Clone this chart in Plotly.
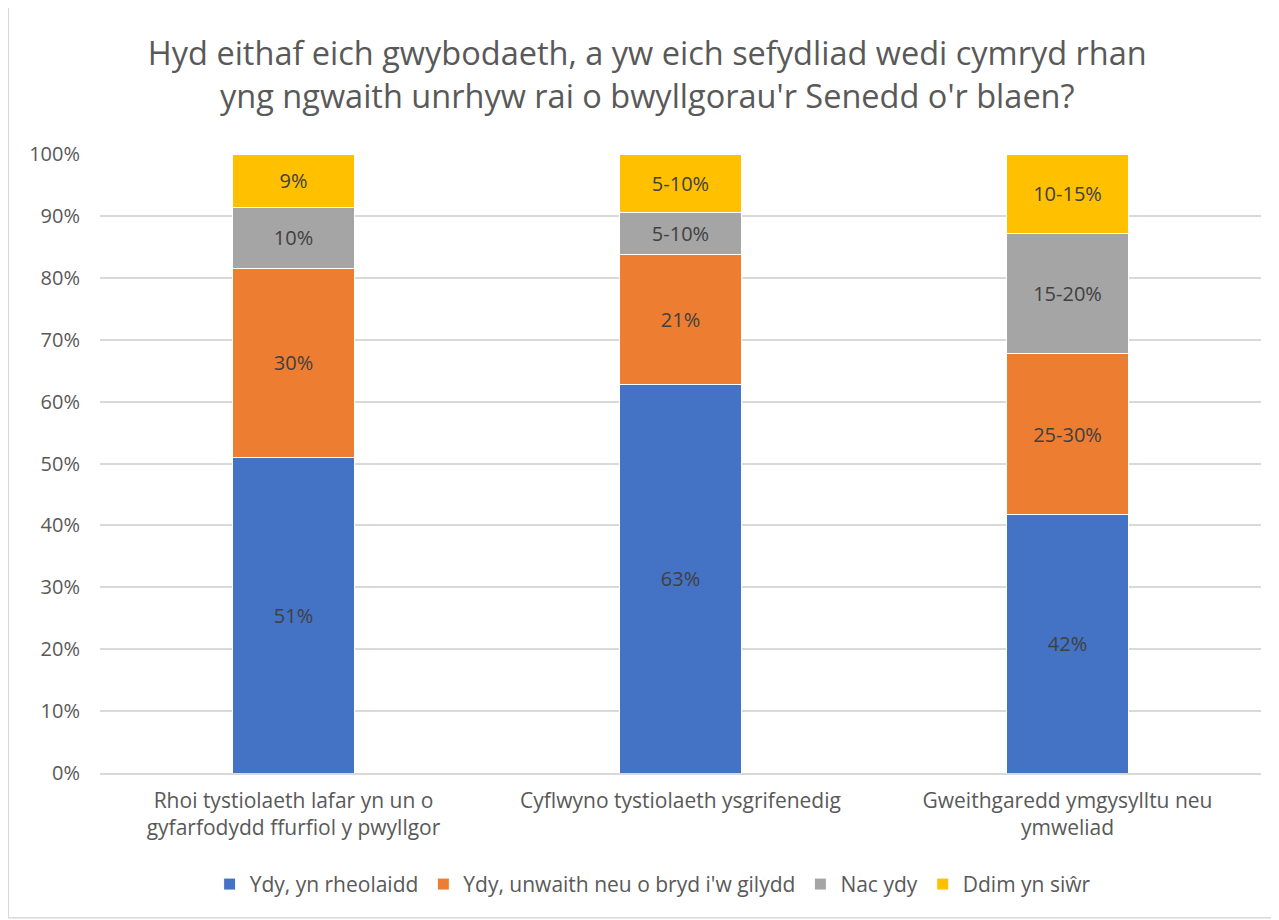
import plotly.graph_objects as go

categories = [
    "Rhoi tystiolaeth lafar yn un o<br>gyfarfodydd ffurfiol y pwyllgor",
    "Cyflwyno tystiolaeth ysgrifenedig",
    "Gweithgaredd ymgysylltu neu<br>ymweliad",
]
series_names = ["Ydy, yn rheolaidd", "Ydy, unwaith neu o bryd i'w gilydd", "Nac ydy", "Ddim yn siŵr"]
colors = ["#4472C4", "#ED7D31", "#A5A5A5", "#FFC000"]

# estimated shares
regular = [51, 62.7, 41.8]
occasional = [30.5, 21, 25.9]
no = [9.9, 6.9, 19.5]
unsure = [8.6, 9.4, 12.8]

regular_labels = ["51%", "63%", "42%"]
occasional_labels = ["30%", "21%", "25-30%"]
no_labels = ["10%", "5-10%", "15-20%"]
unsure_labels = ["9%", "5-10%", "10-15%"]

values = [regular, occasional, no, unsure]
labels = [regular_labels, occasional_labels, no_labels, unsure_labels]

font = "'Open Sans', sans-serif"
grey = "#595959"

fig = go.Figure()
for name, vals, txt, col in zip(series_names, values, labels, colors):
    fig.add_trace(go.Bar(
        x=categories, y=vals, name=name, text=txt,
        textposition="inside", insidetextanchor="middle",
        textfont=dict(color="#404040", size=20, family=font),
        marker=dict(color=col, line=dict(color="white", width=1)),
    ))

# page body adds ~8px offset, so figure is 8px smaller
fig.update_layout(
    barmode="stack",
    bargap=0.684,
    width=1271, height=912,
    margin=dict(l=92, r=18, t=146, b=147),
    paper_bgcolor="white", plot_bgcolor="white",
    font=dict(family=font, color=grey, size=20),
    title=dict(
        text="Hyd eithaf eich gwybodaeth, a yw eich sefydliad wedi cymryd rhan<br>yng ngwaith unrhyw rai o bwyllgorau'r Senedd o'r blaen?",
        x=0.503, xanchor="center", y=0.937, yanchor="middle",
        font=dict(size=32.5, color=grey, family=font),
    ),
    legend=dict(orientation="h", x=0.476, xanchor="center", y=-0.18, yanchor="middle",
                font=dict(size=21, color=grey), traceorder="normal"),
    yaxis=dict(range=[0, 100], dtick=10, ticksuffix="%", showgrid=True,
               gridcolor="#D9D9D9", gridwidth=1.5, zeroline=False,
               showline=False, ticks="", ticklabelstandoff=19,
               tickfont=dict(size=20, color=grey)),
    xaxis=dict(showline=True, linecolor="#D9D9D9", linewidth=1.5, ticks="",
               ticklabelstandoff=8, tickfont=dict(size=21, color=grey)),
    shapes=[dict(type="rect", xref="paper", yref="paper",
                 x0=-0.079, x1=1.013, y0=-0.234, y1=1.247,
                 line=dict(color="#D9D9D9", width=1.5), fillcolor="rgba(0,0,0,0)")],
)

fig.write_html("out.html")
